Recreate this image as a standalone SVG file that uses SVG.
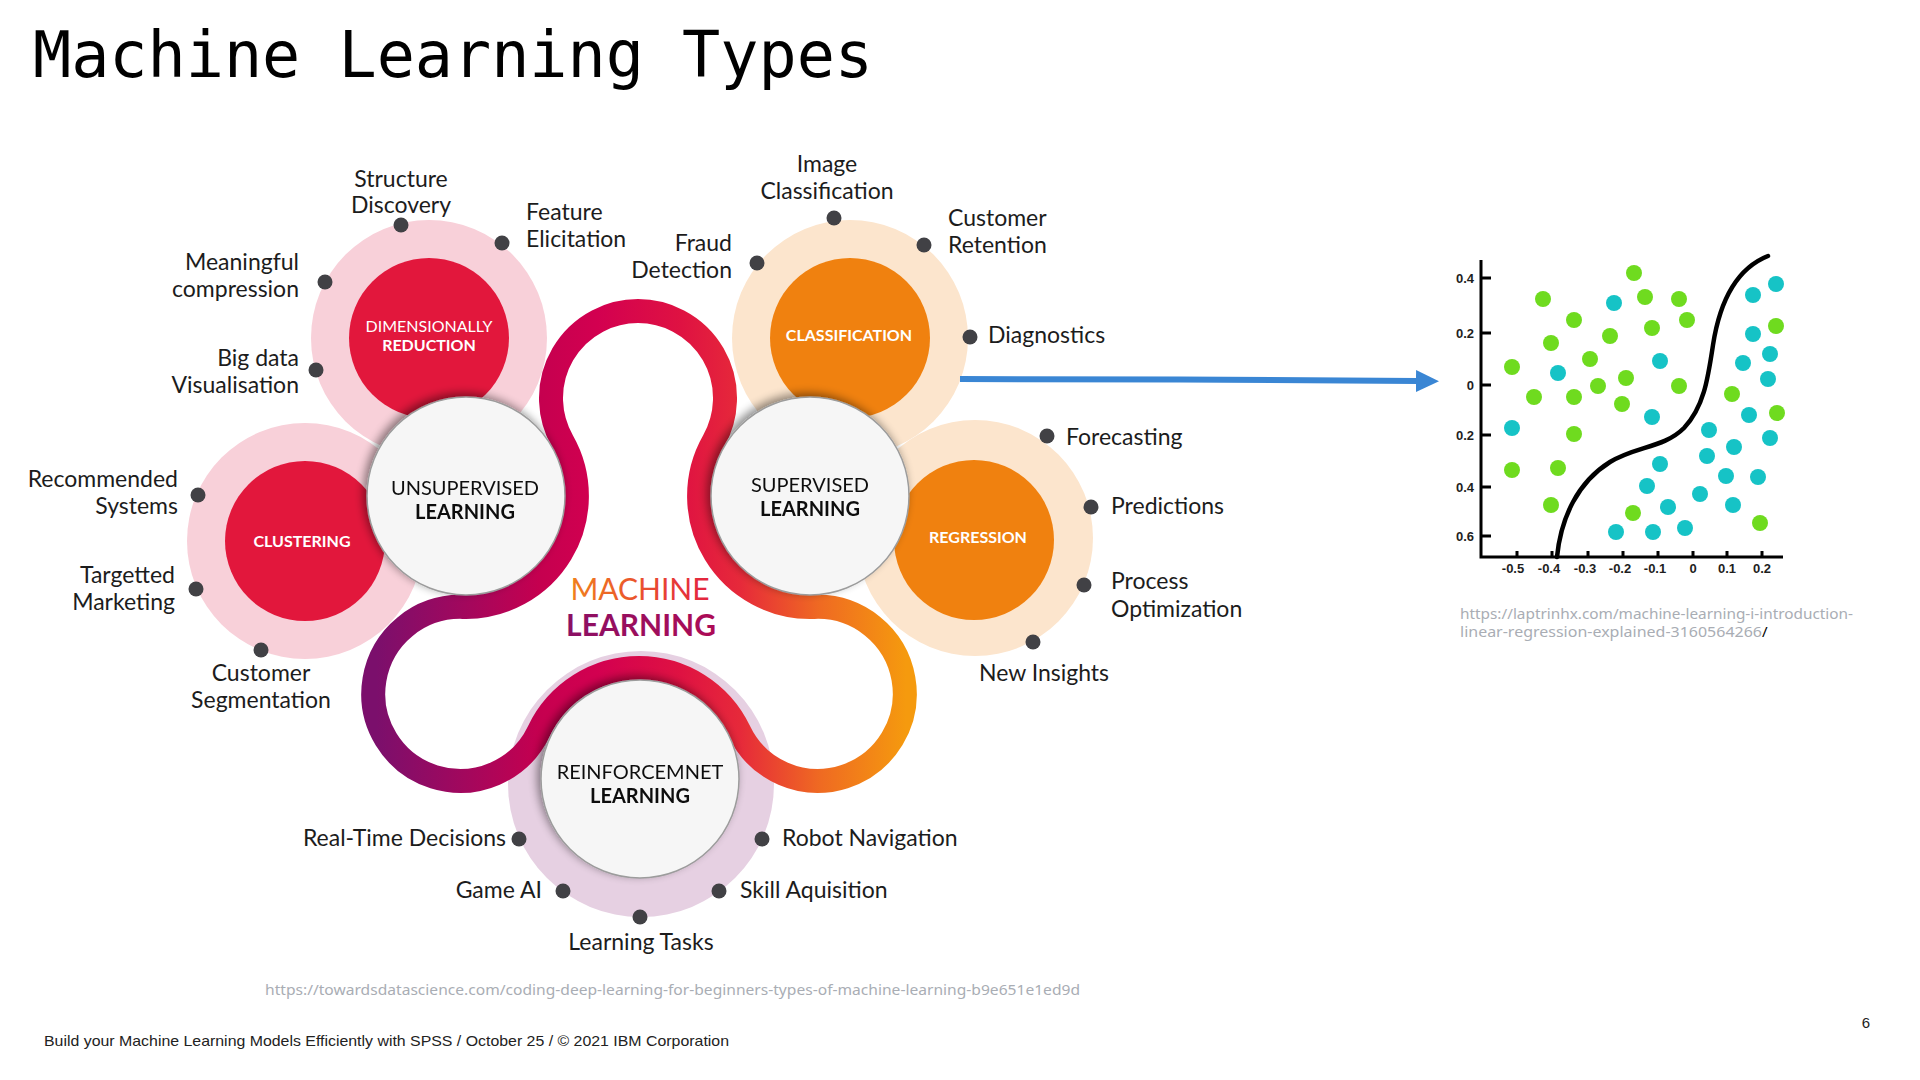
<svg xmlns="http://www.w3.org/2000/svg" width="1920" height="1080" viewBox="0 0 1920 1080">
  <defs>
    <style>
      .lbl { font-family: Lato, "Liberation Sans", sans-serif; font-size: 23px; fill: #1c1c1c; }
      .end { text-anchor: end; }
      .mid { text-anchor: middle; }
      .dot { fill: #414145; }
      .ring-pink { fill: #f8d0d9; }
      .ring-peach { fill: #fce5cd; }
      .ring-lilac { fill: #e6d0e2; }
      .core-red { fill: #e2173c; }
      .core-orange { fill: #f0810f; }
      .core-txt { font-family: Lato, "Liberation Sans", sans-serif; font-size: 16px; fill: #ffffff; text-anchor: middle; }
      .hub { fill: #f6f6f6; stroke: #9c9c9c; stroke-width: 1.5; }
      .hub-txt { font-family: Lato, "Liberation Sans", sans-serif; font-size: 20px; fill: #111111; text-anchor: middle; }
      .ax { font-family: "Liberation Sans", Arial, sans-serif; font-size: 13px; font-weight: bold; fill: #1e1e1e; }
      .g { fill: #6fdb1f; }
      .t { fill: #16c3c6; }
    </style>
    <linearGradient id="ribbonGrad" gradientUnits="userSpaceOnUse" x1="365" y1="0" x2="920" y2="0">
      <stop offset="0.02" stop-color="#7b0f6c"/>
      <stop offset="0.19" stop-color="#a5075c"/>
      <stop offset="0.315" stop-color="#c5004f"/>
      <stop offset="0.42" stop-color="#d30050"/>
      <stop offset="0.57" stop-color="#df1242"/>
      <stop offset="0.675" stop-color="#e6293a"/>
      <stop offset="0.82" stop-color="#ef6a22"/>
      <stop offset="0.975" stop-color="#f59a0e"/>
    </linearGradient>
    <linearGradient id="mlTop" gradientUnits="userSpaceOnUse" x1="572" y1="0" x2="710" y2="0">
      <stop offset="0" stop-color="#f07f1e"/>
      <stop offset="1" stop-color="#e3233f"/>
    </linearGradient>
    <linearGradient id="mlBottom" gradientUnits="userSpaceOnUse" x1="567" y1="0" x2="715" y2="0">
      <stop offset="0" stop-color="#8a1064"/>
      <stop offset="1" stop-color="#ad0b56"/>
    </linearGradient>
    <filter id="hubShadow" x="-30%" y="-30%" width="160%" height="160%">
      <feGaussianBlur in="SourceAlpha" stdDeviation="5"/>
      <feOffset dx="-3" dy="-3" result="b"/>
      <feComponentTransfer><feFuncA type="linear" slope="0.45"/></feComponentTransfer>
      <feMerge><feMergeNode/><feMergeNode in="SourceGraphic"/></feMerge>
    </filter>
    <marker id="arrowHead" markerWidth="24" markerHeight="24" refX="1" refY="11" orient="auto" markerUnits="userSpaceOnUse">
      <path d="M0,0 L23,11 L0,22 Z" fill="#3a86d4"/>
    </marker>
  </defs>

  <rect width="1920" height="1080" fill="#ffffff"/>

  <!-- slide title -->
  <text x="33" y="77" font-family="'DejaVu Sans Mono', 'Liberation Mono', monospace" font-size="64" textLength="840" lengthAdjust="spacingAndGlyphs" fill="#000000">Machine Learning Types</text>

  <!-- outer rings of the sub-categories -->
  <g id="rings">
    <circle class="ring-pink" cx="429" cy="338" r="118"/>
    <circle class="ring-pink" cx="305" cy="541" r="118"/>
    <circle class="ring-peach" cx="975" cy="538" r="118"/>
    <circle class="ring-peach" cx="850" cy="338" r="118"/>
    <circle class="ring-lilac" cx="641" cy="784" r="133"/>
  </g>

  <g id="dimensionally-reduction">
    <circle class="core-red" cx="429" cy="338" r="80"/>
    <text class="core-txt" x="429" y="332">DIMENSIONALLY</text>
    <text class="core-txt" x="429" y="351" font-weight="bold">REDUCTION</text>
  </g>
  <g id="clustering">
    <circle class="core-red" cx="305" cy="541" r="80"/>
    <text class="core-txt" x="302" y="547" font-weight="bold">CLUSTERING</text>
  </g>
  <g id="classification">
    <circle class="core-orange" cx="850" cy="338" r="80"/>
    <text class="core-txt" x="849" y="341" font-weight="bold">CLASSIFICATION</text>
  </g>
  <g id="regression">
    <circle class="core-orange" cx="974" cy="540" r="80"/>
    <text class="core-txt" x="978" y="543" font-weight="bold">REGRESSION</text>
  </g>

  <!-- ribbon linking the three learning types -->
  <g id="connectors">
    <path id="ribbon" d="M562.4,441.1 A87,87 0 1 1 713.6,441.1 A111,111 0 0 0 814.3,606.9 A87,87 0 1 1 739.2,731.2 A111,111 0 0 0 538.8,731.3 A87,87 0 1 1 462.7,606.9 A111,111 0 0 0 562.4,441.1 Z" fill="none" stroke="url(#ribbonGrad)" stroke-width="24"/>
    <path id="to-chart" d="M960,379 L1180,379.5 L1417,381" fill="none" stroke="#3a86d4" stroke-width="6" marker-end="url(#arrowHead)"/>
  </g>

  <g id="unsupervised-learning" filter="url(#hubShadow)">
    <circle class="hub" cx="466" cy="496" r="99"/>
    <text class="hub-txt" x="465" y="495">UNSUPERVISED</text>
    <text class="hub-txt" x="465" y="519" font-weight="bold">LEARNING</text>
  </g>
  <g id="supervised-learning" filter="url(#hubShadow)">
    <circle class="hub" cx="810" cy="496" r="99"/>
    <text class="hub-txt" x="810" y="492">SUPERVISED</text>
    <text class="hub-txt" x="810" y="516" font-weight="bold">LEARNING</text>
  </g>
  <g id="reinforcement-learning" filter="url(#hubShadow)">
    <circle class="hub" cx="640" cy="779" r="99"/>
    <text class="hub-txt" x="640" y="779">REINFORCEMNET</text>
    <text class="hub-txt" x="640" y="803" font-weight="bold">LEARNING</text>
  </g>

  <g id="machine-learning">
    <text x="640" y="600" font-family="Lato, 'Liberation Sans', sans-serif" font-size="30" text-anchor="middle" fill="url(#mlTop)">MACHINE</text>
    <text x="641" y="636" font-family="Lato, 'Liberation Sans', sans-serif" font-size="30" font-weight="bold" text-anchor="middle" fill="url(#mlBottom)">LEARNING</text>
  </g>

  <!-- application bullets -->
  <g id="dr-uses">
    <circle class="dot" cx="401" cy="225" r="7.5"/>
    <text class="lbl mid" x="401" y="187">Structure</text>
    <text class="lbl mid" x="401" y="213">Discovery</text>
    <circle class="dot" cx="502" cy="243" r="7.5"/>
    <text class="lbl" x="526" y="220">Feature</text>
    <text class="lbl" x="526" y="247">Elicitation</text>
    <circle class="dot" cx="325" cy="282" r="7.5"/>
    <text class="lbl end" x="299" y="270">Meaningful</text>
    <text class="lbl end" x="299" y="297">compression</text>
    <circle class="dot" cx="316" cy="370" r="7.5"/>
    <text class="lbl end" x="299" y="366">Big data</text>
    <text class="lbl end" x="299" y="393">Visualisation</text>
  </g>
  <g id="clustering-uses">
    <circle class="dot" cx="198" cy="495" r="7.5"/>
    <text class="lbl end" x="178" y="487">Recommended</text>
    <text class="lbl end" x="178" y="514">Systems</text>
    <circle class="dot" cx="196" cy="589" r="7.5"/>
    <text class="lbl end" x="175" y="583">Targetted</text>
    <text class="lbl end" x="175" y="610">Marketing</text>
    <circle class="dot" cx="261" cy="650" r="7.5"/>
    <text class="lbl mid" x="261" y="681">Customer</text>
    <text class="lbl mid" x="261" y="708">Segmentation</text>
  </g>
  <g id="classification-uses">
    <circle class="dot" cx="834" cy="218" r="7.5"/>
    <text class="lbl mid" x="827" y="172">Image</text>
    <text class="lbl mid" x="827" y="199">Classification</text>
    <circle class="dot" cx="924" cy="245" r="7.5"/>
    <text class="lbl" x="948" y="226">Customer</text>
    <text class="lbl" x="948" y="253">Retention</text>
    <circle class="dot" cx="757" cy="263" r="7.5"/>
    <text class="lbl end" x="732" y="251">Fraud</text>
    <text class="lbl end" x="732" y="278">Detection</text>
    <circle class="dot" cx="970" cy="337" r="7.5"/>
    <text class="lbl" x="988" y="343">Diagnostics</text>
  </g>
  <g id="regression-uses">
    <circle class="dot" cx="1047" cy="436" r="7.5"/>
    <text class="lbl" x="1066" y="445">Forecasting</text>
    <circle class="dot" cx="1091" cy="507" r="7.5"/>
    <text class="lbl" x="1111" y="514">Predictions</text>
    <circle class="dot" cx="1084" cy="585" r="7.5"/>
    <text class="lbl" x="1111" y="589">Process</text>
    <text class="lbl" x="1111" y="617">Optimization</text>
    <circle class="dot" cx="1033" cy="642" r="7.5"/>
    <text class="lbl mid" x="1044" y="681">New Insights</text>
  </g>
  <g id="reinforcement-uses">
    <circle class="dot" cx="519" cy="839" r="7.5"/>
    <text class="lbl end" x="506" y="846">Real-Time Decisions</text>
    <circle class="dot" cx="762" cy="839" r="7.5"/>
    <text class="lbl" x="782" y="846">Robot Navigation</text>
    <circle class="dot" cx="563" cy="891" r="7.5"/>
    <text class="lbl end" x="542" y="898">Game AI</text>
    <circle class="dot" cx="719" cy="891" r="7.5"/>
    <text class="lbl" x="740" y="898">Skill Aquisition</text>
    <circle class="dot" cx="640" cy="917" r="7.5"/>
    <text class="lbl mid" x="641" y="950">Learning Tasks</text>
  </g>

  <!-- classification scatter plot -->
  <g id="scatter-chart">
    <g stroke="#000000" stroke-width="3" fill="none">
      <path d="M1481,260 V557 H1783"/>
      <path d="M1481,278 h10 M1481,333 h10 M1481,385 h10 M1481,435 h10 M1481,487 h10 M1481,536 h10"/>
      <path d="M1517,557 v-6 M1552,557 v-6 M1588,557 v-6 M1623,557 v-6 M1658,557 v-6 M1693,557 v-6 M1727,557 v-6 M1762,557 v-6"/>
    </g>
    <g class="ax" text-anchor="end">
      <text x="1474" y="283">0.4</text>
      <text x="1474" y="338">0.2</text>
      <text x="1474" y="390">0</text>
      <text x="1474" y="440">0.2</text>
      <text x="1474" y="492">0.4</text>
      <text x="1474" y="541">0.6</text>
    </g>
    <g class="ax" text-anchor="middle">
      <text x="1513" y="573">-0.5</text>
      <text x="1549" y="573">-0.4</text>
      <text x="1585" y="573">-0.3</text>
      <text x="1620" y="573">-0.2</text>
      <text x="1655" y="573">-0.1</text>
      <text x="1693" y="573">0</text>
      <text x="1727" y="573">0.1</text>
      <text x="1762" y="573">0.2</text>
    </g>
    <g>
      <circle class="g" cx="1634" cy="273" r="8"/>
      <circle class="g" cx="1543" cy="299" r="8"/>
      <circle class="g" cx="1645" cy="297" r="8"/>
      <circle class="g" cx="1679" cy="299" r="8"/>
      <circle class="g" cx="1574" cy="320" r="8"/>
      <circle class="g" cx="1687" cy="320" r="8"/>
      <circle class="g" cx="1652" cy="328" r="8"/>
      <circle class="g" cx="1610" cy="336" r="8"/>
      <circle class="g" cx="1551" cy="343" r="8"/>
      <circle class="g" cx="1590" cy="359" r="8"/>
      <circle class="g" cx="1512" cy="367" r="8"/>
      <circle class="g" cx="1626" cy="378" r="8"/>
      <circle class="g" cx="1598" cy="386" r="8"/>
      <circle class="g" cx="1679" cy="386" r="8"/>
      <circle class="g" cx="1534" cy="397" r="8"/>
      <circle class="g" cx="1574" cy="397" r="8"/>
      <circle class="g" cx="1622" cy="404" r="8"/>
      <circle class="g" cx="1574" cy="434" r="8"/>
      <circle class="g" cx="1512" cy="470" r="8"/>
      <circle class="g" cx="1558" cy="468" r="8"/>
      <circle class="g" cx="1551" cy="505" r="8"/>
      <circle class="g" cx="1633" cy="513" r="8"/>
      <circle class="g" cx="1732" cy="394" r="8"/>
      <circle class="g" cx="1776" cy="326" r="8"/>
      <circle class="g" cx="1777" cy="413" r="8"/>
      <circle class="g" cx="1760" cy="523" r="8"/>
      <circle class="t" cx="1614" cy="303" r="8"/>
      <circle class="t" cx="1753" cy="295" r="8"/>
      <circle class="t" cx="1776" cy="284" r="8"/>
      <circle class="t" cx="1753" cy="334" r="8"/>
      <circle class="t" cx="1770" cy="354" r="8"/>
      <circle class="t" cx="1743" cy="363" r="8"/>
      <circle class="t" cx="1660" cy="361" r="8"/>
      <circle class="t" cx="1768" cy="379" r="8"/>
      <circle class="t" cx="1558" cy="373" r="8"/>
      <circle class="t" cx="1652" cy="417" r="8"/>
      <circle class="t" cx="1749" cy="415" r="8"/>
      <circle class="t" cx="1512" cy="428" r="8"/>
      <circle class="t" cx="1709" cy="430" r="8"/>
      <circle class="t" cx="1770" cy="438" r="8"/>
      <circle class="t" cx="1734" cy="447" r="8"/>
      <circle class="t" cx="1707" cy="456" r="8"/>
      <circle class="t" cx="1660" cy="464" r="8"/>
      <circle class="t" cx="1726" cy="476" r="8"/>
      <circle class="t" cx="1758" cy="477" r="8"/>
      <circle class="t" cx="1647" cy="486" r="8"/>
      <circle class="t" cx="1700" cy="494" r="8"/>
      <circle class="t" cx="1668" cy="507" r="8"/>
      <circle class="t" cx="1733" cy="505" r="8"/>
      <circle class="t" cx="1616" cy="532" r="8"/>
      <circle class="t" cx="1653" cy="532" r="8"/>
      <circle class="t" cx="1685" cy="528" r="8"/>
    </g>
    <path d="M1557,557 C1561,517 1578,482 1610,462 C1636,446 1664,448 1684,428 C1704,407 1708,378 1713,345 C1720,300 1738,268 1768,256" fill="none" stroke="#000000" stroke-width="4.5" stroke-linecap="round"/>
  </g>

  <!-- source notes and footer -->
  <g font-family="'Noto Sans', 'Liberation Sans', sans-serif" font-size="15" fill="#a9adb4">
    <text x="1460" y="619" textLength="393" lengthAdjust="spacingAndGlyphs">https://laptrinhx.com/machine-learning-i-introduction-</text>
    <text x="1460" y="637"><tspan textLength="302" lengthAdjust="spacingAndGlyphs">linear-regression-explained-3160564266</tspan><tspan fill="#000000">/</tspan></text>
    <text x="265" y="995" textLength="815" lengthAdjust="spacingAndGlyphs">https://towardsdatascience.com/coding-deep-learning-for-beginners-types-of-machine-learning-b9e651e1ed9d</text>
  </g>
  <text x="44" y="1046" font-family="'Liberation Sans', Arial, sans-serif" font-size="15" fill="#222222" textLength="685" lengthAdjust="spacingAndGlyphs">Build your Machine Learning Models Efficiently with SPSS / October 25 / © 2021 IBM Corporation</text>
  <text x="1866" y="1028" font-family="'Liberation Sans', Arial, sans-serif" font-size="15" fill="#222222" text-anchor="middle">6</text>
</svg>
